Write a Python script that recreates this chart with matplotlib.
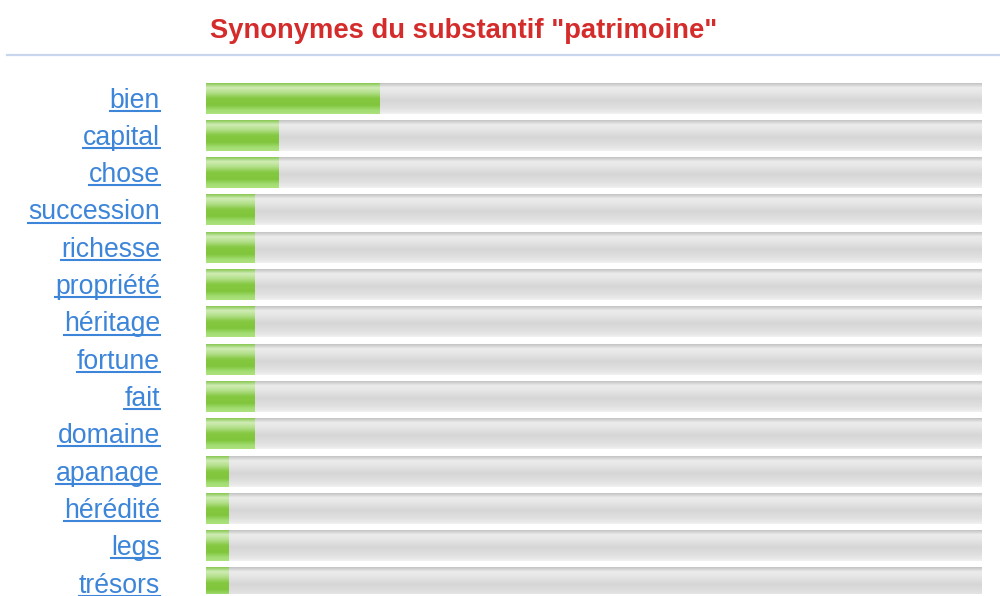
import numpy as np
import matplotlib
matplotlib.use("Agg")
import matplotlib.pyplot as plt
from matplotlib.lines import Line2D

# données (échelle 0-100)
mots = ["bien", "capital", "chose", "succession", "richesse", "propriété",
        "héritage", "fortune", "fait", "domaine", "apanage", "hérédité",
        "legs", "trésors"]
scores = [22.3, 9.3, 9.3, 6.2, 6.2, 6.2, 6.2, 6.2, 6.2, 6.2, 2.9, 2.9, 2.9, 2.9]
maximum = 100
titre = 'Synonymes du substantif "patrimoine"'

plt.rcParams['font.family'] = ['Liberation Sans', 'DejaVu Sans']


def degrade(stops, n=64):
    # stops : liste de (position 0..1, couleur hex) de haut en bas
    pos = [p for p, _ in stops]
    rgb = np.array([matplotlib.colors.to_rgb(c) for _, c in stops])
    t = np.linspace(0, 1, n)
    img = np.stack([np.interp(t, pos, rgb[:, k]) for k in range(3)], axis=1)
    return img[:, None, :]


vert = degrade([(0.0, "#8cc852"), (0.06, "#a6d880"), (0.14, "#d0ecb4"),
                (0.30, "#b4e08c"), (0.50, "#84c840"), (0.72, "#80c63c"),
                (0.88, "#a2dc72"), (1.0, "#aee27e")])
gris = degrade([(0.0, "#c4c4c4"), (0.06, "#d4d4d4"), (0.14, "#ececec"),
                (0.30, "#e6e6e6"), (0.55, "#d6d6d6"), (0.80, "#e0e0e0"),
                (0.92, "#e8e8e8"), (1.0, "#f2f2f2")])

fig = plt.figure(figsize=(10, 5.96), dpi=100)
ax = fig.add_axes([0.206, 0.003, 0.776, 0.8638])

h = 0.83
for i, (mot, val) in enumerate(zip(mots, scores)):
    ax.imshow(gris, extent=[0, maximum, i + h / 2, i - h / 2],
              aspect="auto", interpolation="bilinear", zorder=1)
    ax.imshow(vert, extent=[0, val, i + h / 2, i - h / 2],
              aspect="auto", interpolation="bilinear", zorder=2)

ax.set_xlim(0, maximum)
ax.set_ylim(13.3, -0.5)
ax.axis("off")

# étiquettes soulignées
etiquettes = []
for i, mot in enumerate(mots):
    t = ax.text(-0.0593, i + 0.255, mot, transform=ax.get_yaxis_transform(),
                ha="right", va="baseline", fontsize=19.2, color="#3d85d8")
    etiquettes.append(t)

fig.text(0.4635, 1 - 38 / 596, titre, ha="center", va="baseline",
         fontsize=19.7, fontweight="bold", color="#d42b2b")
fig.add_artist(Line2D([0.007, 1.0], [1 - 55 / 596, 1 - 55 / 596],
                      color="#c8d6f0", lw=1.6))

fig.canvas.draw()
r = fig.canvas.get_renderer()
for i, t in enumerate(etiquettes):
    bb = t.get_window_extent(r)
    y = ax.transData.transform((0, i + 0.34))[1] / fig.bbox.height
    fig.add_artist(Line2D([bb.x0 / fig.bbox.width, bb.x1 / fig.bbox.width], [y, y],
                          color="#3d85d8", lw=1.5))

fig.savefig("out.png", dpi=100)
